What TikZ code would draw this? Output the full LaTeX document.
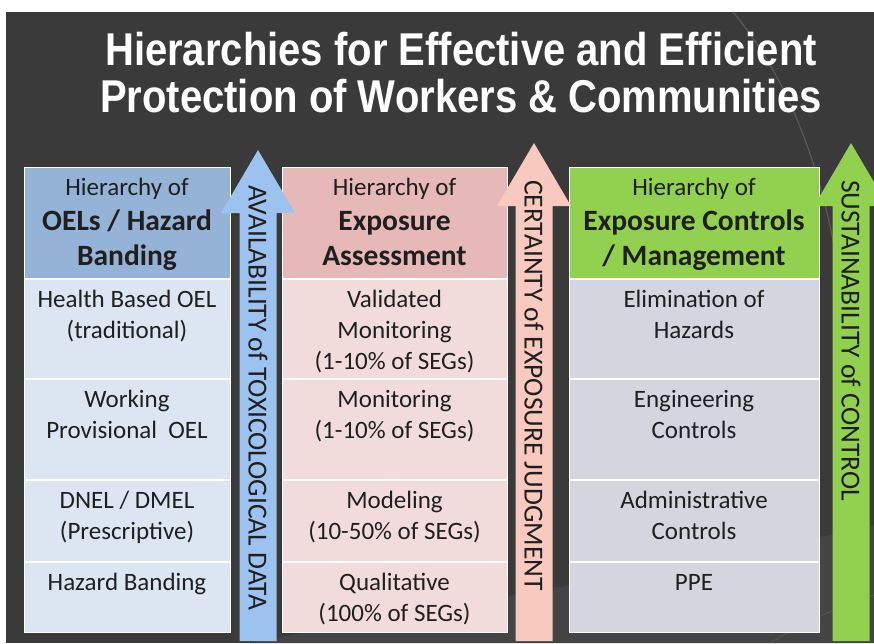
\documentclass[tikz,border=0pt]{standalone}
\usepackage{fontspec}
\setmainfont{Carlito}
\newfontfamily\titlefont[FakeStretch=0.87]{Liberation Sans}
\usetikzlibrary{positioning}

\definecolor{bgdark}{HTML}{3A3A3A}
\definecolor{bglight}{HTML}{444444}
\definecolor{bgline}{HTML}{585858}
\definecolor{blueHead}{HTML}{95B3D7}
\definecolor{blueRow}{HTML}{DCE6F2}
\definecolor{blueArrow}{HTML}{9CC2F0}
\definecolor{pinkHead}{HTML}{E6B9B8}
\definecolor{pinkRow}{HTML}{F2DCDB}
\definecolor{pinkArrow}{HTML}{F8C9BE}
\definecolor{greenHead}{HTML}{92D050}
\definecolor{greenRow}{HTML}{D5D5DF}
\definecolor{greenArrow}{HTML}{92D050}

% top aligned text inside a cell of given width and height
\newcommand{\cellbox}[3]{\parbox[t][#2][t]{#1}{\centering\rule{0pt}{28pt}#3}}
% heading of a column: small first line, big bold rest
\newcommand{\headtext}[1]{Hierarchy of\par{\fontsize{29.5}{35}\selectfont\bfseries #1\par}}
% upward arrow: colour, centre x, tip y
\newcommand{\upArrow}[3]{%
    \fill[#1] (#2-18.5,641) -- (#2-18.5,#3+63) -- (#2-37,#3+63) -- (#2,#3)
        -- (#2+37,#3+63) -- (#2+18.5,#3+63) -- (#2+18.5,641) -- cycle;}

\begin{document}
\begin{tikzpicture}[x=1pt, y=-1pt,
    cell/.style = {draw=white, line width=1pt, inner sep=0pt, font=\fontsize{25}{31}\selectfont, text=black!88},
    sidelabel/.style = {rotate=-90, anchor=west, inner sep=0pt, font=\fontsize{27.5}{30}\selectfont, text=black!88}]
    \useasboundingbox (0,0) rectangle (874,643);
    \clip (0,0) rectangle (874,643);
    \fill[bgdark] (6,12) rectangle (874,643);
    % background swooshes
    \fill[bglight] (250,643) .. controls (450,605) and (700,565) .. (874,525) -- (874,643) -- cycle;
    \draw[bgline, line width=1.2pt] (733,12) .. controls (790,80) and (830,180) .. (845,320);
    \draw[bgline, line width=0.8pt] (770,643) .. controls (800,625) and (840,605) .. (874,595);

    \node[font=\titlefont\bfseries\fontsize{46}{47}\selectfont, text=white, align=center] (title) at (461,73)
        {Hierarchies for Effective and Efficient\\Protection of Workers \& Communities};

    % OELs column
    \node[cell, fill=blueHead, anchor=north] (oelHead) at (127,167) {\cellbox{206pt}{111pt}{\headtext{OELs / Hazard\\Banding}}};
    \node[cell, fill=blueRow, below=0pt of oelHead] (oel1) {\cellbox{206pt}{99pt}{Health Based OEL\\(traditional)}};
    \node[cell, fill=blueRow, below=0pt of oel1] (oel2) {\cellbox{206pt}{100pt}{Working\\Provisional~~OEL}};
    \node[cell, fill=blueRow, below=0pt of oel2] (oel3) {\cellbox{206pt}{81pt}{DNEL / DMEL\\(Prescriptive)}};
    \node[cell, fill=blueRow, below=0pt of oel3] (oel4) {\cellbox{206pt}{70pt}{Hazard Banding}};

    % exposure assessment column
    \node[cell, fill=pinkHead, anchor=north] (expHead) at (394.5,167) {\cellbox{225pt}{111pt}{\headtext{Exposure\\Assessment}}};
    \node[cell, fill=pinkRow, below=0pt of expHead] (exp1) {\cellbox{225pt}{99pt}{Validated\\Monitoring\\(1-10\% of SEGs)}};
    \node[cell, fill=pinkRow, below=0pt of exp1] (exp2) {\cellbox{225pt}{100pt}{Monitoring\\(1-10\% of SEGs)}};
    \node[cell, fill=pinkRow, below=0pt of exp2] (exp3) {\cellbox{225pt}{81pt}{Modeling\\(10-50\% of SEGs)}};
    \node[cell, fill=pinkRow, below=0pt of exp3] (exp4) {\cellbox{225pt}{70pt}{Qualitative\\(100\% of SEGs)}};

    % controls column
    \node[cell, fill=greenHead, anchor=north] (ctlHead) at (694,167) {\cellbox{250pt}{111pt}{\headtext{Exposure Controls\\/ Management}}};
    \node[cell, fill=greenRow, below=0pt of ctlHead] (ctl1) {\cellbox{250pt}{99pt}{Elimination of\\Hazards}};
    \node[cell, fill=greenRow, below=0pt of ctl1] (ctl2) {\cellbox{250pt}{100pt}{Engineering\\Controls}};
    \node[cell, fill=greenRow, below=0pt of ctl2] (ctl3) {\cellbox{250pt}{81pt}{Administrative\\Controls}};
    \node[cell, fill=greenRow, below=0pt of ctl3] (ctl4) {\cellbox{250pt}{70pt}{PPE}};

    % arrows between the columns
    \upArrow{blueArrow}{258}{150}
    \upArrow{pinkArrow}{534}{143}
    \upArrow{greenArrow}{851}{143}
    \node[sidelabel] (availLbl) at (258,185) {AVAILABILITY of TOXICOLOGICAL DATA};
    \node[sidelabel] (certLbl) at (534,180) {CERTAINTY of EXPOSURE JUDGMENT};
    \node[sidelabel] (sustLbl) at (851,180) {SUSTAINABILITY of CONTROL};
\end{tikzpicture}
\end{document}
